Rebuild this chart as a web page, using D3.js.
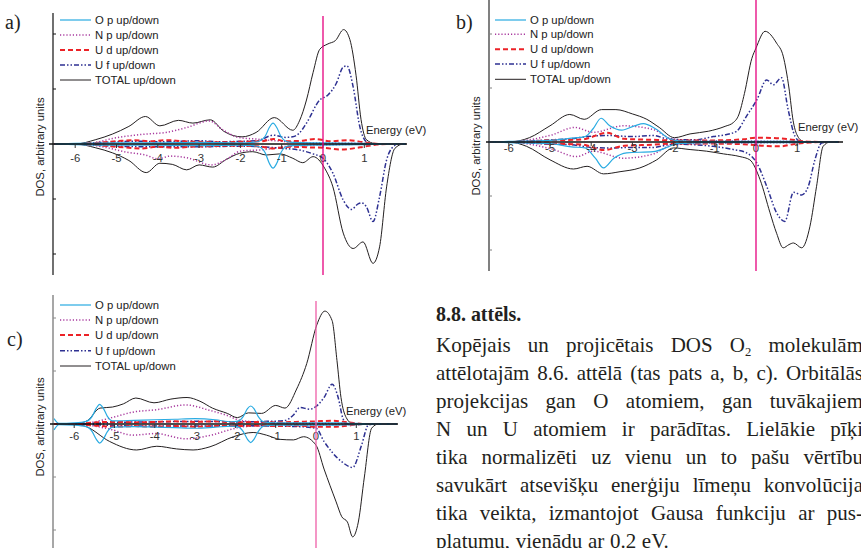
<!DOCTYPE html>
<html><head><meta charset="utf-8">
<script src="https://cdn.jsdelivr.net/npm/d3@7"></script>
<style>body{margin:0;background:#fff}svg{display:block}</style>
</head><body>
<svg id="fig" width="861" height="548"></svg>
<script>
// ---------- DATA (energy in eV, DOS in axis-tick units; "Down" values are magnitudes) ----------
const energyTicks = [-6,-5,-4,-3,-2,-1,0,1];
const dosTicks = [-2,-1,1,2];
const legendLabels = ['O p up/down','N p up/down','U d up/down','U f up/down','TOTAL up/down'];

// panel a
const aTotalUp = [[-6.5,0],[-6,0],[-5.5,0.08],[-5.1,0.18],[-4.7,0.32],[-4.3,0.5],[-3.95,0.33],[-3.5,0.43],[-3.15,0.38],[-2.73,0.44],[-2.4,0.23],[-1.96,0.13],[-1.62,0.21],[-1.18,0.48],[-0.73,0.25],[-0.57,0.42],[-0.4,0.8],[-0.24,1.3],[-0.08,1.72],[0.12,1.82],[0.3,1.88],[0.5,2.08],[0.65,1.9],[0.8,1.25],[0.92,0.45],[1.05,0.08],[1.25,0.01],[1.6,0],[2.0,0]];
const aTotalDown = [[-6.5,0],[-6,0],[-5.5,0.07],[-5.1,0.16],[-4.7,0.3],[-4.28,0.52],[-3.95,0.35],[-3.65,0.37],[-3.3,0.47],[-3.0,0.38],[-2.67,0.42],[-2.34,0.28],[-2.02,0.17],[-1.7,0.14],[-1.37,0.2],[-1.05,0.18],[-0.73,0.26],[-0.49,0.34],[-0.24,0.23],[0.04,0.44],[0.24,0.78],[0.49,1.62],[0.73,1.9],[0.97,1.78],[1.21,2.17],[1.37,1.87],[1.54,0.78],[1.74,0.08],[1.95,0],[2.0,0]];
const aOpUp = [[-6.5,0],[-6,0.01],[-5,0.02],[-4,0.02],[-3,0.03],[-2,0.02],[-1.7,0.03],[-1.55,0.05],[-1.4,0.14],[-1.3,0.3],[-1.21,0.38],[-1.12,0.3],[-1.02,0.14],[-0.9,0.05],[-0.75,0.03],[0,0.02],[1,0.01],[1.5,0],[2,0]];
const aOpDown = [[-6.5,0],[-6,0.01],[-5,0.02],[-4,0.02],[-3,0.03],[-2,0.02],[-1.7,0.03],[-1.55,0.05],[-1.4,0.16],[-1.3,0.35],[-1.21,0.44],[-1.12,0.35],[-1.02,0.16],[-0.9,0.05],[-0.75,0.03],[0,0.02],[1,0.01],[1.5,0],[2,0]];
const aNpUp = [[-6.5,0],[-6,0],[-5.5,0.03],[-5.1,0.1],[-4.78,0.14],[-4.3,0.18],[-3.8,0.21],[-3.3,0.3],[-2.75,0.42],[-2.45,0.27],[-2.05,0.12],[-1.63,0.09],[-1.16,0.06],[-0.6,0.03],[0,0.02],[1,0.01],[1.5,0],[2,0]];
const aNpDown = [[-6.5,0],[-6,0],[-5.5,0.03],[-5.15,0.08],[-4.75,0.15],[-4.3,0.2],[-4.0,0.27],[-3.7,0.22],[-3.3,0.25],[-2.7,0.38],[-2.34,0.28],[-2.0,0.13],[-1.4,0.1],[-0.97,0.05],[-0.5,0.03],[0.5,0.01],[1.5,0],[2,0]];
const aUdUp = [[-6.5,0],[-6,0],[-5.5,0.02],[-5,0.05],[-4.6,0.07],[-4.2,0.05],[-3.8,0.07],[-3.4,0.05],[-3,0.04],[-2.5,0.03],[-2,0.04],[-1.5,0.05],[-1.2,0.09],[-0.9,0.05],[-0.5,0.06],[-0.2,0.09],[0.2,0.05],[0.6,0.07],[1,0.03],[1.4,0],[2,0]];
const aUdDown = [[-6.5,0],[-6,0],[-5.5,0.02],[-5,0.05],[-4.4,0.08],[-4,0.05],[-3.6,0.07],[-3.2,0.05],[-2.7,0.04],[-2.2,0.03],[-1.6,0.04],[-1.2,0.08],[-0.8,0.05],[-0.4,0.06],[0,0.07],[0.45,0.1],[0.9,0.06],[1.3,0.01],[1.6,0],[2,0]];
const aUfUp = [[-6.5,0],[-6,0],[-5.5,0.02],[-5,0.04],[-4.5,0.05],[-4,0.04],[-3.5,0.05],[-3,0.06],[-2.5,0.04],[-2,0.05],[-1.6,0.06],[-1.2,0.16],[-0.9,0.12],[-0.73,0.13],[-0.57,0.2],[-0.4,0.38],[-0.08,0.8],[0.12,0.89],[0.32,1.1],[0.49,1.4],[0.58,1.42],[0.73,1.04],[0.89,0.32],[1.05,0.04],[1.2,0],[2,0]];
const aUfDown = [[-6.5,0],[-6,0],[-5,0.04],[-4,0.05],[-3,0.05],[-2,0.04],[-1.5,0.05],[-0.97,0.08],[-0.57,0.11],[-0.24,0.18],[0,0.26],[0.24,0.53],[0.49,1.02],[0.69,1.19],[0.85,1.09],[0.93,1.07],[1.05,1.14],[1.21,1.41],[1.37,0.96],[1.54,0.29],[1.7,0.05],[1.85,0],[2,0]];

// panel b
const bTotalUp = [[-6.5,0],[-6,0],[-5.5,0.08],[-5.0,0.3],[-4.52,0.51],[-4.17,0.42],[-3.75,0.6],[-3.4,0.6],[-3.0,0.52],[-2.65,0.42],[-2.35,0.27],[-1.98,0.08],[-1.6,0.15],[-1.15,0.2],[-0.75,0.29],[-0.55,0.36],[-0.42,0.5],[-0.28,0.9],[-0.1,1.55],[0,1.74],[0.22,2.05],[0.5,1.83],[0.66,1.59],[0.8,1.0],[0.9,0.4],[0.99,0.14],[1.15,0.01],[1.4,0],[2,0]];
const bTotalDown = [[-6.5,0],[-6,0],[-5.57,0.08],[-5.0,0.33],[-4.43,0.5],[-4.1,0.45],[-3.7,0.59],[-3.3,0.55],[-2.82,0.48],[-2.41,0.33],[-2.0,0.11],[-1.6,0.14],[-1.2,0.17],[-0.79,0.22],[-0.39,0.27],[-0.15,0.33],[0.1,0.7],[0.34,1.31],[0.5,1.69],[0.66,1.96],[0.8,1.9],[0.91,1.87],[1.11,1.96],[1.31,1.56],[1.47,0.82],[1.63,0.08],[1.8,0],[2,0]];
const bOpUp = [[-6.5,0],[-6,0.01],[-5,0.03],[-4.48,0.07],[-4.15,0.1],[-3.95,0.25],[-3.76,0.44],[-3.55,0.3],[-3.26,0.22],[-2.95,0.3],[-2.73,0.34],[-2.45,0.25],[-2.1,0.06],[-1.9,0.02],[-1,0.01],[0,0.01],[1,0.01],[1.5,0],[2,0]];
const bOpDown = [[-6.5,0],[-6,0.01],[-5,0.03],[-4.48,0.09],[-4.15,0.11],[-3.9,0.3],[-3.7,0.48],[-3.45,0.3],[-3.14,0.2],[-2.5,0.18],[-2.13,0.09],[-1.93,0.03],[-1,0.01],[1,0.01],[1.5,0],[2,0]];
const bNpUp = [[-6.5,0],[-6,0],[-5.5,0.04],[-4.96,0.13],[-4.4,0.27],[-3.95,0.18],[-3.22,0.3],[-2.49,0.23],[-2.05,0.06],[-1.5,0.03],[-0.5,0.02],[1,0.01],[1.5,0],[2,0]];
const bNpDown = [[-6.5,0],[-6,0],[-5.5,0.04],[-4.96,0.13],[-4.35,0.27],[-3.95,0.17],[-3.22,0.3],[-2.49,0.22],[-2.05,0.06],[-1.5,0.03],[-0.5,0.02],[1,0.01],[1.5,0],[2,0]];
const bUdUp = [[-6.5,0],[-6,0],[-5,0.03],[-4.2,0.05],[-3.62,0.17],[-3.2,0.06],[-2.5,0.04],[-2,0.03],[-1,0.03],[-0.3,0.05],[0.0,0.08],[0.5,0.07],[0.8,0.05],[1.2,0.01],[1.6,0],[2,0]];
const bUdDown = [[-6.5,0],[-6,0],[-5,0.03],[-4.2,0.05],[-3.7,0.15],[-3.2,0.07],[-2.5,0.05],[-2,0.03],[-1,0.03],[-0.3,0.04],[0.2,0.07],[0.6,0.08],[0.9,0.04],[1.3,0.01],[1.6,0],[2,0]];
const bUfUp = [[-6.5,0],[-6,0],[-5.5,0.02],[-5,0.04],[-4.5,0.06],[-4.1,0.1],[-3.6,0.12],[-3,0.1],[-2.5,0.12],[-2.1,0.05],[-1.5,0.04],[-1.04,0.1],[-0.71,0.14],[-0.47,0.2],[-0.23,0.48],[0.02,0.78],[0.26,1.15],[0.42,1.06],[0.62,1.19],[0.78,0.6],[0.95,0.1],[1.1,0],[2,0]];
const bUfDown = [[-6.5,0],[-6,0],[-5,0.04],[-4.5,0.05],[-4,0.1],[-3.5,0.11],[-3,0.1],[-2.5,0.1],[-2,0.04],[-1.5,0.05],[-1.04,0.08],[-0.55,0.14],[-0.23,0.2],[0.02,0.39],[0.26,0.82],[0.5,1.31],[0.7,1.47],[0.91,0.93],[1.11,0.98],[1.27,0.82],[1.43,0.33],[1.59,0.02],[1.75,0],[2,0]];

// panel c
const cTotalUp = [[-6.5,0],[-6,0],[-5.68,0.06],[-5.36,0.3],[-5.05,0.32],[-4.78,0.38],[-4.47,0.49],[-4.02,0.4],[-3.6,0.47],[-3.2,0.5],[-2.88,0.43],[-2.57,0.3],[-2.2,0.2],[-1.95,0.12],[-1.68,0.21],[-1.35,0.2],[-1.0,0.35],[-0.77,0.3],[-0.48,0.66],[-0.23,1.14],[0.02,1.87],[0.22,2.13],[0.4,1.95],[0.52,1.2],[0.62,0.5],[0.75,0.12],[0.9,0.01],[1.2,0],[2,0]];
const cTotalDown = [[-6.5,0],[-6,0],[-5.7,0.05],[-5.12,0.33],[-4.45,0.49],[-3.95,0.42],[-3.46,0.47],[-3.05,0.49],[-2.63,0.43],[-2.05,0.24],[-1.56,0.16],[-1.23,0.21],[-0.89,0.29],[-0.56,0.3],[-0.31,0.24],[0.0,0.4],[0.2,0.85],[0.5,1.47],[0.64,1.75],[0.78,1.85],[0.91,2.13],[1.05,1.85],[1.2,1.0],[1.38,0.08],[1.55,0],[2,0]];
const cOpUp = [[-6.5,0.1],[-6.38,0.01],[-6,0.02],[-5.7,0.05],[-5.55,0.15],[-5.45,0.3],[-5.37,0.37],[-5.28,0.3],[-5.18,0.15],[-5.05,0.06],[-4.5,0.07],[-4,0.08],[-3.5,0.09],[-3,0.1],[-2.5,0.08],[-2.1,0.04],[-1.92,0.06],[-1.8,0.15],[-1.7,0.29],[-1.62,0.34],[-1.54,0.29],[-1.44,0.15],[-1.3,0.04],[-1,0.02],[0,0.02],[0.6,0.02],[1,0.01],[1.5,0],[2,0]];
const cOpDown = [[-6.5,0.11],[-6.38,0.01],[-6,0.02],[-5.7,0.05],[-5.55,0.15],[-5.45,0.29],[-5.37,0.36],[-5.28,0.29],[-5.18,0.15],[-5.05,0.06],[-4.5,0.05],[-4,0.06],[-3.5,0.07],[-3,0.08],[-2.5,0.06],[-2.1,0.04],[-1.92,0.06],[-1.8,0.15],[-1.7,0.29],[-1.62,0.35],[-1.54,0.29],[-1.44,0.15],[-1.3,0.04],[-1,0.02],[0,0.02],[1,0.01],[1.5,0],[2,0]];
const cNpUp = [[-6.5,0],[-6,0],[-5.5,0.04],[-5.07,0.12],[-4.5,0.23],[-3.95,0.27],[-3.23,0.36],[-2.65,0.26],[-2.2,0.16],[-1.93,0.08],[-1.5,0.04],[-0.5,0.02],[0.5,0.01],[1.2,0],[2,0]];
const cNpDown = [[-6.5,0],[-6,0],[-5.5,0.04],[-5.1,0.1],[-4.55,0.21],[-3.98,0.18],[-3.23,0.28],[-2.55,0.2],[-2.1,0.1],[-1.8,0.05],[-1,0.03],[0,0.02],[1,0.01],[1.3,0],[2,0]];
const cUdUp = [[-6.5,0],[-6,0],[-5.5,0.03],[-5,0.04],[-4.5,0.03],[-4,0.04],[-3.5,0.05],[-3,0.04],[-2.5,0.05],[-2,0.03],[-1.5,0.04],[-1,0.03],[-0.5,0.04],[0,0.05],[0.4,0.06],[0.8,0.03],[1.2,0],[2,0]];
const cUdDown = [[-6.5,0],[-6,0],[-5.5,0.03],[-5,0.05],[-4.5,0.04],[-4,0.05],[-3.5,0.04],[-3,0.05],[-2.5,0.04],[-2,0.04],[-1.5,0.03],[-1,0.04],[-0.5,0.03],[0,0.05],[0.4,0.05],[0.8,0.03],[1.2,0],[2,0]];
const cUfUp = [[-6.5,0],[-6,0],[-5,0.03],[-4,0.04],[-3,0.05],[-2,0.04],[-1.2,0.05],[-0.81,0.06],[-0.56,0.17],[-0.4,0.31],[-0.15,0.28],[0,0.33],[0.2,0.5],[0.4,0.75],[0.55,0.5],[0.67,0.1],[0.78,0],[1.1,0],[2,0]];
const cUfDown = [[-6.5,0],[-6,0],[-5,0.03],[-4,0.04],[-3,0.04],[-2,0.03],[-1,0.04],[-0.4,0.05],[0,0.08],[0.2,0.33],[0.62,0.7],[0.91,0.82],[1.13,0.4],[1.3,0.02],[1.47,0],[2,0]];

const captionTitle = '8.8. attēls.';
const captionLines = [
  'Kopējais un projicētais DOS O2 molekulām',
  'attēlotajām 8.6. attēlā (tas pats a, b, c). Orbitālās',
  'projekcijas gan O atomiem, gan tuvākajiem',
  'N un U atomiem ir parādītas. Lielākie pīķi',
  'tika normalizēti uz vienu un to pašu vērtību',
  'savukārt atsevišķu enerģiju līmeņu konvolūcija',
  'tika veikta, izmantojot Gausa funkciju ar pus-',
  'platumu, vienādu ar 0.2 eV.'
];

// ---------- STYLES / LAYOUT ----------
const sans = "'Liberation Sans', Arial, sans-serif";
const serif = "'Liberation Serif', 'Times New Roman', serif";
const style = {
  Op:    {color:'#29abe2', width:1.2, dash:null},
  Np:    {color:'#a8399e', width:1.5, dash:'1.2,2'},
  Ud:    {color:'#ec2227', width:2,   dash:'5,3'},
  Uf:    {color:'#2e3192', width:1.5, dash:'5,2,1.5,2,1.5,2'},
  Total: {color:'#231f20', width:1,   dash:null}
};
const legendKeys = ['Op','Np','Ud','Uf','Total'];
const drawOrder = ['Total','Np','Uf','Ud','Op'];

const panels = [
  {label:'a)', labX:5, labY:29,
   data:{Total:[aTotalUp,aTotalDown],Op:[aOpUp,aOpDown],Np:[aNpUp,aNpDown],Ud:[aUdUp,aUdDown],Uf:[aUfUp,aUfDown]},
   e0:323, pxEv:41.3, zeroY:144, unit:55, top:13, bottom:275, axisX:53, axisColor:'#111', axisW:1.2,
   baseL:49, baseR:407, fermiTop:16, fermiColor:'#e5007e',
   legX:60, legY:[20,35,50,65,80], tickDy:18, enX:366, enY:134, ylX:44, ylY:147},
  {label:'b)', labX:456, labY:29,
   data:{Total:[bTotalUp,bTotalDown],Op:[bOpUp,bOpDown],Np:[bNpUp,bNpDown],Ud:[bUdUp,bUdDown],Uf:[bUfUp,bUfDown]},
   e0:756, pxEv:41.2, zeroY:142, unit:54, top:0, bottom:271, axisX:489, axisColor:'#808080', axisW:2,
   baseL:486, baseR:843, fermiTop:0, fermiColor:'#e5007e',
   legX:495, legY:[20,34.3,49.3,64,79.3], tickDy:10, enX:798, enY:131, ylX:480, ylY:146},
  {label:'c)', labX:7, labY:346,
   data:{Total:[cTotalUp,cTotalDown],Op:[cOpUp,cOpDown],Np:[cNpUp,cNpDown],Ud:[cUdUp,cUdDown],Uf:[cUfUp,cUfDown]},
   e0:316, pxEv:40.3, zeroY:424, unit:53, top:295, bottom:548, axisX:53, axisColor:'#8a8a8a', axisW:1.5,
   baseL:50, baseR:398, fermiTop:301, fermiColor:'#ee5fa8',
   legX:60, legY:[305,320,335,350.7,366], tickDy:16, enX:346, enY:415, ylX:44, ylY:427}
];

const svg = d3.select('#fig');

panels.forEach(p => {
  const g = svg.append('g');
  const x = d3.scaleLinear().domain([-6.5, 2.1]).range([p.e0 - 6.5*p.pxEv, p.e0 + 2.1*p.pxEv]);
  const y = d3.scaleLinear().domain([(p.zeroY - p.bottom)/p.unit, (p.zeroY - p.top)/p.unit]).range([p.bottom, p.top]);

  g.append('line').attr('x1',p.axisX).attr('x2',p.axisX).attr('y1',p.top).attr('y2',p.bottom)
    .attr('stroke',p.axisColor).attr('stroke-width',p.axisW);
  g.selectAll('.yt').data(dosTicks).enter().append('line')
    .attr('x1',p.axisX).attr('x2',p.axisX+3).attr('y1',d=>y(d)).attr('y2',d=>y(d))
    .attr('stroke',p.axisColor).attr('stroke-width',1);

  g.append('text').attr('transform',`translate(${p.ylX},${p.ylY}) rotate(-90)`)
    .attr('text-anchor','middle').style('font-family',sans).style('font-size','11.3px').attr('fill','#222')
    .text('DOS, arbitrary units');

  const line = d3.line().x(d=>x(d[0])).y(d=>y(d[1])).curve(d3.curveMonotoneX);
  drawOrder.forEach(k => {
    const st = style[k];
    const [up, down] = p.data[k];
    [up, down.map(d=>[d[0], -d[1]])].forEach(arr => {
      g.append('path').attr('d', line(arr)).attr('fill','none')
        .attr('stroke', st.color).attr('stroke-width', st.width)
        .attr('stroke-dasharray', st.dash).attr('stroke-linejoin','round');
    });
  });

  g.append('line').attr('x1',p.baseL).attr('x2',p.baseR).attr('y1',y(0)).attr('y2',y(0))
    .attr('stroke','#111').attr('stroke-width',1.6);
  g.selectAll('.xt').data(energyTicks).enter().append('line')
    .attr('x1',d=>x(d)).attr('x2',d=>x(d)).attr('y1',y(0)).attr('y2',y(0)+4)
    .attr('stroke','#333').attr('stroke-width',1);
  g.selectAll('.xl').data(energyTicks).enter().append('text')
    .attr('x',d=>x(d)).attr('y',y(0)+p.tickDy).attr('text-anchor','middle')
    .style('font-family',sans).style('font-size','11.3px').attr('fill','#333').text(d=>d);

  g.append('line').attr('x1',x(0)).attr('x2',x(0)).attr('y1',p.fermiTop).attr('y2',p.bottom)
    .attr('stroke',p.fermiColor).attr('stroke-width',1.3);

  g.append('text').attr('x',p.enX).attr('y',p.enY).style('font-family',sans).style('font-size','11.3px')
    .attr('fill','#222').text('Energy (eV)');

  legendKeys.forEach((k,i) => {
    const st = style[k];
    g.append('line').attr('x1',p.legX).attr('x2',p.legX+31).attr('y1',p.legY[i]).attr('y2',p.legY[i])
      .attr('stroke',st.color).attr('stroke-width',st.width).attr('stroke-dasharray',st.dash);
    g.append('text').attr('x',p.legX+35).attr('y',p.legY[i]+4).style('font-family',sans)
      .style('font-size','11.3px').attr('fill','#222').text(legendLabels[i]);
  });

  svg.append('text').attr('x',p.labX).attr('y',p.labY).style('font-family',serif)
    .style('font-size','20px').attr('fill','#222').text(p.label);
});

// ---------- caption (justified) ----------
const capX = 436, capRight = 863, lh = 28, firstBase = 352;
const probe = svg.append('text').style('font-family',serif).style('font-size','18px').text(captionLines[1]);
const capSize = Math.min(21, 18 * 427 / probe.node().getComputedTextLength());
probe.remove();

svg.append('text').attr('x',capX).attr('y',321).style('font-family',serif).style('font-weight','bold')
  .style('font-size',(capSize*0.95)+'px').attr('fill','#231f20').text(captionTitle);

captionLines.forEach((ln,i) => {
  const words = ln.split(' ');
  const yb = firstBase + i*lh;
  const nodes = words.map(w => {
    const t = svg.append('text').attr('y',yb).style('font-family',serif).style('font-size',capSize+'px').attr('fill','#231f20');
    if (w === 'O2') { t.text('O'); t.append('tspan').attr('dy',4).style('font-size',(capSize*0.6)+'px').text('2'); }
    else t.text(w);
    return t;
  });
  const widths = nodes.map(n => n.node().getComputedTextLength());
  const last = i === captionLines.length - 1;
  const gap = last ? capSize*0.27 : (capRight - capX - d3.sum(widths)) / (words.length - 1);
  let cx = capX;
  nodes.forEach((n,j) => { n.attr('x', cx); cx += widths[j] + gap; });
});
</script>
</body></html>
